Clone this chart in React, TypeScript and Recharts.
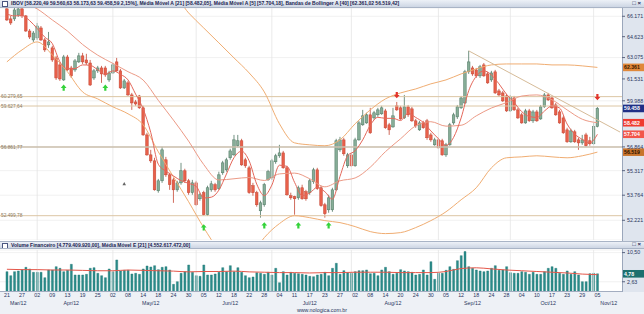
import { ComposedChart, Bar, Line, XAxis, YAxis, CartesianGrid, ReferenceLine, ReferenceDot } from 'recharts';

const FONT = "'Liberation Sans', Arial, sans-serif";

// sessions Mar/12 .. Nov/12 (BM&FBovespa trading days)
const MONTH_NUM = ['03', '04', '05', '06', '07', '08', '09', '10', '11'];
const MONTH_NAME = ['Mar/12', 'Apr/12', 'May/12', 'Jun/12', 'Jul/12', 'Aug/12', 'Sep/12', 'Oct/12', 'Nov/12'];
const SESSION_DAYS = [
  [21, 22, 23, 26, 27, 28, 29, 30],
  [2, 3, 4, 5, 9, 10, 11, 12, 13, 16, 17, 18, 19, 20, 23, 24, 25, 26, 27, 30],
  [2, 3, 4, 7, 8, 9, 10, 11, 14, 15, 16, 17, 18, 21, 22, 23, 24, 25, 28, 29, 30, 31],
  [1, 4, 5, 6, 8, 11, 12, 13, 14, 15, 18, 19, 20, 21, 22, 25, 26, 27, 28, 29],
  [2, 3, 4, 5, 6, 10, 11, 12, 13, 16, 17, 18, 19, 20, 23, 24, 25, 26, 27, 30, 31],
  [1, 2, 3, 6, 7, 8, 9, 10, 13, 14, 15, 16, 17, 20, 21, 22, 23, 24, 27, 28, 29, 30, 31],
  [3, 4, 5, 6, 10, 11, 12, 13, 14, 17, 18, 19, 20, 21, 24, 25, 26, 27, 28],
  [1, 2, 3, 4, 5, 8, 9, 10, 11, 15, 16, 17, 18, 19, 22, 23, 24, 25, 26, 29, 30, 31],
  [1, 5],
];
const FUTURE_SLOTS = 6;
const MONTH_START = [8, 28, 50, 70, 91, 114, 133, 155];
const MONTH_LABEL_AT = [3, 17, 38, 59, 80, 102, 123, 143, 159];

// IBOV, thousands of points
const OPEN = [
  66.74, 65.97, 65.97, 66.27, 66.74, 66.2, 65.05, 64.38, 64.53, 65.28, 64.38, 64.01, 63.79, 63.05, 62.54, 61.46, 63.12, 62.32, 62.18, 62.76,
  63.2, 62.9, 62.68, 61.6, 62.11, 62.32, 62.32, 61.46, 61.96, 62.76, 62.11, 60.89, 61.25, 60.4, 59.91, 60.33, 59.5, 57.66, 56.34, 55.95,
  54.04, 54.67, 56.02, 55.05, 54.73, 54.1, 54.54, 55.31, 54.67, 53.92, 54.54, 53.54, 53.92, 52.56, 54.1, 54.42, 54.17, 55.18, 55.37, 56.15,
  56.34, 56.94, 57.27, 56.02, 55.5, 54.36, 53.92, 52.8, 53.17, 54.73, 54.86, 55.89, 56.28, 56.47, 55.5, 53.73, 53.67, 53.6, 54.23, 53.98,
  53.92, 54.61, 55.37, 54.23, 53.17, 52.86, 52.86, 54.1, 56.67, 57.33, 55.63, 56.34, 55.63, 57.33, 58.34, 58.47, 59.02, 58.81, 59.02, 59.09,
  59.29, 58.34, 58.2, 59.64, 59.5, 58.81, 59.57, 59.43, 58.61, 58.0, 58.47, 58.61, 57.66, 57.0, 57.33, 57.27, 56.34, 57.0, 58.47, 58.88,
  59.5, 59.84, 62.04, 62.32, 62.18, 61.75, 62.54, 61.89, 61.46, 62.04, 60.68, 60.54, 60.33, 59.29, 60.19, 59.36, 59.02, 58.47, 59.29, 58.61,
  59.22, 58.74, 59.57, 60.4, 60.19, 59.7, 59.22, 58.81, 58.0, 57.2, 57.87, 57.33, 57.13, 57.66, 57.27, 57.07, 58.22,
];
const HIGH = [
  66.9, 66.2, 66.81, 66.89, 66.89, 66.27, 65.2, 65.05, 65.66, 65.43, 64.53, 64.98, 63.94, 63.2, 62.68, 63.27, 63.27, 62.47, 62.97, 63.42,
  63.42, 63.35, 62.9, 62.25, 62.47, 62.47, 62.47, 62.11, 62.68, 63.05, 62.25, 61.53, 61.39, 60.54, 60.05, 60.4, 59.64, 57.8, 56.67, 56.15,
  54.79, 56.87, 56.21, 55.18, 54.86, 54.67, 55.82, 55.44, 54.79, 54.73, 54.67, 53.92, 54.04, 54.36, 54.67, 54.54, 55.25, 55.95, 56.15, 56.74,
  57.66, 57.66, 57.4, 56.15, 55.63, 54.54, 54.04, 53.42, 54.54, 55.37, 56.08, 56.41, 57.0, 56.6, 55.63, 53.92, 53.73, 54.36, 54.42, 54.1,
  54.79, 55.5, 55.5, 54.36, 53.29, 53.79, 54.23, 57.4, 57.53, 57.47, 56.47, 56.47, 57.47, 58.61, 59.36, 59.16, 59.5, 59.29, 59.5, 59.64,
  59.43, 58.47, 59.5, 59.91, 59.64, 60.4, 59.7, 59.57, 58.74, 58.61, 58.61, 58.74, 57.8, 57.47, 57.47, 57.4, 57.13, 58.47, 59.16, 59.7,
  60.33, 62.18, 63.57, 62.47, 62.32, 62.54, 62.68, 62.04, 62.11, 62.18, 60.82, 60.68, 60.47, 60.4, 60.33, 59.5, 59.16, 59.43, 59.43, 59.36,
  59.36, 59.7, 60.54, 60.54, 60.33, 59.84, 59.36, 58.95, 58.14, 58.07, 58.0, 57.47, 57.66, 57.8, 57.53, 58.47, 59.56,
];
const LOW = [
  65.81, 65.51, 65.81, 66.12, 66.04, 64.98, 64.45, 64.23, 64.38, 64.3, 63.49, 63.79, 62.76, 61.46, 61.39, 61.39, 62.11, 61.6, 62.04, 62.68,
  62.61, 62.54, 61.03, 61.46, 61.96, 61.25, 61.68, 61.32, 61.89, 62.04, 60.82, 60.82, 60.33, 59.36, 59.64, 59.43, 57.6, 56.28, 55.82, 54.05,
  53.92, 54.54, 54.92, 54.1, 53.29, 53.98, 54.42, 54.54, 53.79, 53.79, 53.11, 53.42, 52.5, 52.48, 53.98, 53.98, 54.1, 55.05, 55.25, 56.02,
  56.28, 56.87, 55.63, 55.5, 53.85, 53.73, 53.05, 52.38, 53.05, 54.67, 54.73, 55.76, 56.15, 55.44, 53.73, 53.48, 52.56, 53.48, 53.48, 53.42,
  53.79, 54.48, 54.1, 53.05, 52.38, 52.68, 52.74, 54.04, 56.54, 56.28, 55.5, 55.57, 55.57, 57.27, 58.27, 58.41, 57.73, 58.68, 58.88, 59.02,
  58.07, 57.66, 58.14, 59.29, 58.68, 58.74, 58.88, 58.54, 58.14, 57.93, 58.07, 57.33, 57.2, 56.94, 56.74, 56.28, 56.21, 56.94, 58.34, 58.74,
  59.43, 59.77, 61.89, 61.75, 61.6, 61.6, 61.68, 61.18, 61.32, 60.47, 60.26, 59.91, 59.22, 59.22, 59.29, 58.74, 58.41, 58.41, 58.54, 58.47,
  58.54, 58.68, 59.5, 59.98, 59.43, 58.95, 58.41, 57.73, 57.13, 57.13, 57.13, 56.67, 57.0, 56.87, 56.94, 57.0, 58.17,
];
const CLOSE = [
  65.89, 65.66, 66.66, 66.74, 66.2, 65.05, 64.6, 64.9, 65.43, 64.38, 63.64, 64.23, 62.9, 61.6, 61.53, 63.12, 62.18, 61.75, 62.83, 63.2,
  62.76, 62.68, 61.1, 62.11, 62.32, 61.89, 61.82, 61.96, 62.54, 62.11, 60.89, 61.39, 60.4, 59.84, 59.77, 59.5, 57.66, 56.34, 55.95, 54.1,
  54.67, 56.67, 55.05, 54.42, 54.1, 54.54, 55.31, 54.67, 53.92, 54.54, 53.17, 53.79, 52.56, 54.23, 54.48, 54.1, 55.05, 55.82, 56.02, 56.6,
  57.33, 57.27, 55.69, 55.63, 53.92, 53.92, 53.17, 53.29, 54.42, 55.25, 55.95, 56.28, 56.47, 55.5, 53.79, 53.6, 53.54, 54.23, 53.54, 53.54,
  54.67, 55.37, 54.17, 53.11, 52.62, 53.6, 54.1, 57.27, 57.33, 56.41, 56.34, 55.63, 57.33, 58.47, 58.95, 59.02, 57.8, 59.16, 59.36, 59.5,
  58.14, 58.0, 58.95, 59.36, 58.74, 59.57, 59.02, 58.61, 58.27, 58.47, 58.14, 57.47, 57.33, 57.33, 56.8, 56.34, 57.0, 58.34, 59.02, 59.57,
  60.19, 62.04, 62.76, 61.89, 61.75, 62.4, 61.75, 61.25, 61.96, 60.54, 60.4, 59.98, 59.29, 60.26, 59.36, 58.81, 58.47, 59.29, 58.61, 59.22,
  58.61, 59.57, 60.4, 60.05, 59.5, 59.02, 58.47, 57.8, 57.2, 57.93, 57.2, 57.13, 57.33, 56.94, 57.07, 58.21, 59.46,
];
// Volume Financeiro, R$ billions
const VOLUME = [
  5.36, 4.28, 5.36, 5.54, 5.9, 6.53, 6.08, 5.18, 5.18, 5.18, 3.74, 5.81, 5.81, 6.71, 6.26, 5.36, 5.72, 7.34, 4.46, 4.46,
  4.46, 4.64, 6.26, 6.44, 4.91, 4.28, 3.74, 6.08, 5.36, 8.51, 5.54, 5.72, 5.72, 4.73, 4.91, 4.64, 6.08, 6.89, 6.62, 6.98,
  5.9, 6.53, 6.71, 5.81, 1.94, 2.66, 4.91, 5.36, 7.16, 5.18, 4.28, 4.1, 7.16, 4.46, 4.46, 4.73, 5.18, 6.44, 5.36, 6.98,
  5.36, 6.44, 5.18, 4.28, 3.74, 3.92, 5.09, 4.91, 4.64, 5.18, 4.46, 6.26, 2.39, 5.36, 4.46, 5.18, 4.91, 4.82, 4.64, 4.46,
  4.1, 4.01, 4.46, 4.64, 5.18, 4.28, 6.26, 7.61, 4.64, 5.63, 5.09, 4.91, 5.36, 5.63, 5.63, 5.81, 4.82, 4.91, 4.28, 5.81,
  6.53, 5.36, 4.64, 4.91, 5.9, 5.54, 5.36, 5.18, 4.46, 4.64, 5.81, 4.46, 8.06, 3.29, 4.91, 4.91, 5.72, 6.71, 5.99, 8.33,
  9.68, 10.77, 6.71, 6.26, 5.81, 5.54, 5.36, 5.54, 6.26, 6.98, 5.72, 5.81, 6.71, 5.09, 4.91, 4.91, 5.36, 5.18, 4.64, 5.18,
  4.64, 4.64, 5.36, 6.26, 6.71, 6.26, 4.91, 4.64, 5.54, 4.64, 5.36, 4.46, 2.66, 2.66, 4.82, 4.91, 4.78,
];

// indicators: every 4th session (MA21, bands, volume EMA), every 2nd (MA5)
const MA21 = [
  67.91, 67.28, 66.74, 65.89, 65.05, 64.04, 63.25, 62.65, 62.05, 61.45, 60.02, 58.66, 57.25, 55.71, 54.72, 54.8, 54.88, 54.69, 55.11, 55.16,
  54.8, 54.29, 54.67, 54.85, 55.54, 56.55, 57.4, 58.27, 58.55, 58.25, 58.31, 58.95, 59.49, 59.86, 60.32, 60.4, 60.06, 59.36, 58.72, 58.48,
];
const MA5 = [
  66.35, 66.2, 66.23, 65.84, 65.24, 64.59, 64.11, 62.77, 62.26, 62.28, 62.54, 62.51, 62.19, 61.85, 62.11, 61.86, 61.46, 60.46, 59.43, 57.83,
  55.73, 55.29, 54.98, 54.68, 54.51, 54.32, 53.59, 53.64, 54.08, 55.1, 56.16, 56.58, 55.95, 54.46, 53.74, 54.4, 55.67, 55.59, 54.57, 53.74,
  53.9, 54.26, 53.98, 53.52, 54.95, 56.28, 56.61, 57.33, 58.31, 58.85, 58.78, 58.78, 58.63, 59.13, 58.84, 58.5, 57.93, 57.41, 56.96, 57.49,
  58.81, 60.69, 61.72, 62.11, 61.82, 61.18, 60.44, 59.87, 59.24, 58.91, 58.84, 59.28, 59.63, 59.49, 58.39, 57.72, 57.36, 57.13, 57.7,
];
const BB_UP = [
  68.38, 68.54, 68.38, 68.38, 68.54, 68.54, 68.46, 68.38, 68.22, 68.06, 68.06, 67.83, 66.43, 65.28, 64.16, 63.05, 61.96, 60.61, 58.41, 57.13,
  57.0, 56.94, 57.33, 58.41, 59.36, 60.12, 60.54, 60.82, 61.18, 61.46, 61.89, 62.25, 62.54, 62.61, 62.61, 62.61, 62.54, 62.54, 62.47, 62.36,
];
const BB_LOW = [
  62.76, 63.64, 64.23, 63.27, 62.04, 60.61, 60.12, 59.57, 59.09, 58.34, 56.54, 54.92, 53.36, 51.78, 50.45, 49.75, 49.98, 51.18, 52.02, 52.5,
  52.38, 52.2, 52.08, 51.84, 51.54, 51.42, 51.48, 51.78, 52.2, 52.74, 53.48, 54.23, 55.5, 56.15, 56.21, 56.28, 56.21, 56.15, 56.28, 56.52,
];
const VOL_EMA = [
  6.0, 5.9, 5.9, 5.8, 5.8, 5.7, 5.6, 5.6, 5.8, 5.7, 5.6, 5.5, 5.3, 5.4, 5.4, 5.5, 5.3, 5.2, 5.1, 5.1,
  5.0, 5.1, 5.1, 5.2, 5.2, 5.2, 5.1, 5.1, 5.1, 5.4, 6.2, 6.4, 6.1, 5.8, 5.6, 5.4, 5.2, 5.0, 4.7, 4.55,
];

const BUY_AT = [15, 26, 52, 68, 77, 85];
const BUY_Y = [60.89, 60.89, 51.78, 51.9, 51.9, 51.9];
const SELL_AT = [103, 156];
const SELL_Y = [60.4, 60.26];
const TREND_AT = [122, 162];
const TREND_Y = [63.57, 57.85];

const LEVELS = [60.27965, 59.62764, 56.86177, 52.49978];
const LEVEL_TEXT = ['60.279,65', '59.627,64', '56.861,77', '52.499,78'];
const PRICE_TICKS = [52.221, 53.764, 55.317, 56.864, 59.988, 61.531, 63.075, 64.623, 66.171];
// 5,25 sits under the current-volume tag, so it is not printed
const VOL_TICKS = [2.63, 7.88, 10.5];

const KEYS: string[] = [];
SESSION_DAYS.forEach((days, m) => days.forEach((d) => KEYS.push(`${String(d).padStart(2, '0')}/${MONTH_NUM[m]}`)));
for (let k = 1; k <= FUTURE_SLOTS; k++) KEYS.push(`+${k}`);

const ROWS = KEYS.map((key, i) => {
  const real = i < CLOSE.length;
  return {
    key,
    open: real ? OPEN[i] : null,
    high: real ? HIGH[i] : null,
    low: real ? LOW[i] : null,
    close: real ? CLOSE[i] : null,
    range: real ? [LOW[i], HIGH[i]] : null,
    vol: real ? VOLUME[i] : null,
    ma21: i % 4 === 0 && i / 4 < MA21.length ? MA21[i / 4] : null,
    bbU: i % 4 === 0 && i / 4 < BB_UP.length ? BB_UP[i / 4] : null,
    bbL: i % 4 === 0 && i / 4 < BB_LOW.length ? BB_LOW[i / 4] : null,
    volEma: i % 4 === 0 && i / 4 < VOL_EMA.length ? VOL_EMA[i / 4] : null,
    ma5: i % 2 === 0 && i / 2 < MA5.length ? MA5[i / 2] : null,
    buy: BUY_AT.includes(i) ? BUY_Y[BUY_AT.indexOf(i)] : null,
    sell: SELL_AT.includes(i) ? SELL_Y[SELL_AT.indexOf(i)] : null,
    trend: TREND_AT.includes(i) ? TREND_Y[TREND_AT.indexOf(i)] : null,
  };
});

const UP_FILL = '#86ad97';
const UP_LINE = '#4f7763';
const DOWN_FILL = '#e8604a';
const DOWN_LINE = '#c44634';

function Candle(props: any) {
  const { x, y, width, height, payload } = props;
  if (!payload || payload.open == null || typeof y !== 'number') return <g />;
  const { open, close, high, low } = payload;
  const top = Math.min(y, y + height);
  const bottom = Math.max(y, y + height);
  const lh = Math.log(high);
  const ll = Math.log(low);
  const py = (v: number) => (lh === ll ? top : top + ((bottom - top) * (lh - Math.log(v))) / (lh - ll));
  const up = close >= open;
  const cx = x + width / 2;
  const bTop = py(Math.max(open, close));
  const bBot = py(Math.min(open, close));
  const w = 2.6;
  return (
    <g>
      <line x1={cx} x2={cx} y1={top} y2={bottom} stroke={up ? UP_LINE : DOWN_LINE} strokeWidth={0.8} />
      <rect
        x={cx - w / 2}
        y={bTop}
        width={w}
        height={Math.max(0.8, bBot - bTop)}
        fill={up ? UP_FILL : DOWN_FILL}
        stroke={up ? UP_LINE : DOWN_LINE}
        strokeWidth={0.5}
      />
    </g>
  );
}

const upArrow = (p: any) => {
  const { cx, cy, index } = p;
  if (typeof cy !== 'number' || Number.isNaN(cy)) return <g key={index} />;
  return (
    <path
      key={index}
      d={`M${cx},${cy - 3.4} L${cx + 2.9},${cy} L${cx + 1.1},${cy} L${cx + 1.1},${cy + 2.8} L${cx - 1.1},${cy + 2.8} L${cx - 1.1},${cy} L${cx - 2.9},${cy} Z`}
      fill="#34d33a"
    />
  );
};

const downArrow = (p: any) => {
  const { cx, cy, index } = p;
  if (typeof cy !== 'number' || Number.isNaN(cy)) return <g key={index} />;
  return (
    <path
      key={index}
      d={`M${cx},${cy + 3.4} L${cx + 2.9},${cy} L${cx + 1.1},${cy} L${cx + 1.1},${cy - 2.8} L${cx - 1.1},${cy - 2.8} L${cx - 1.1},${cy} L${cx - 2.9},${cy} Z`}
      fill="#e2332b"
    />
  );
};

const levelLabel = (text: string) => (props: any) => {
  const vb = props.viewBox;
  return (
    <text x={vb.x + 1} y={vb.y + 1.6} fontSize={4.8} fill="#8c7b62" fontFamily={FONT}>
      {text}
    </text>
  );
};

const tag = (text: string, bg: string, fg: string) => (props: any) => {
  const { x, y, width } = props.viewBox;
  return (
    <g>
      <rect x={x + width + 1} y={y - 3.8} width={22} height={7.6} fill={bg} />
      <text x={x + width + 2} y={y + 2} fontSize={5.2} fill={fg} fontFamily={FONT} fontWeight="bold">
        {text}
      </text>
    </g>
  );
};

const smallTriangle = (p: any) => (
  <path d={`M${p.cx},${p.cy - 1.8} L${p.cx + 1.8},${p.cy + 1.4} L${p.cx - 1.8},${p.cy + 1.4} Z`} fill="#666" />
);

const tickStyle = { fontSize: 5.3, fill: '#29355e', fontFamily: FONT };

function PriceChart() {
  return (
    <ComposedChart width={644} height={240} data={ROWS} margin={{ top: 8, right: 0, bottom: 0, left: 0 }}>
      <CartesianGrid vertical={false} stroke="#eeeeee" strokeWidth={0.8} />
      <XAxis dataKey="key" hide padding={{ left: 5, right: 0 }} />
      <YAxis
        orientation="right"
        width={22}
        scale="log"
        domain={[51.04, 66.81]}
        allowDataOverflow
        ticks={PRICE_TICKS}
        tickFormatter={(v: number) => v.toFixed(3)}
        tick={tickStyle}
        tickSize={3}
        tickLine={{ stroke: '#5b6580' }}
        axisLine={false}
      />
      {MONTH_START.map((i) => (
        <ReferenceLine key={i} x={KEYS[i]} stroke="#e4e4e4" strokeWidth={0.8} />
      ))}
      {LEVELS.map((v, i) => (
        <ReferenceLine
          key={v}
          y={v}
          stroke={i === 2 ? '#cbbfad' : '#dcc6a4'}
          strokeWidth={i === 2 ? 1.6 : 1}
          label={levelLabel(LEVEL_TEXT[i])}
        />
      ))}
      <Bar dataKey="range" shape={(p: any) => <Candle {...p} />} isAnimationActive={false} />
      <Line dataKey="bbU" type="monotone" stroke="#f0ad72" strokeWidth={1} dot={false} activeDot={false} connectNulls isAnimationActive={false} />
      <Line dataKey="bbL" type="monotone" stroke="#f0ad72" strokeWidth={1} dot={false} activeDot={false} connectNulls isAnimationActive={false} />
      <Line dataKey="ma21" type="monotone" stroke="#ec9a86" strokeWidth={1} dot={false} activeDot={false} connectNulls isAnimationActive={false} />
      <Line dataKey="ma5" type="monotone" stroke="#e4675a" strokeWidth={1} dot={false} activeDot={false} connectNulls isAnimationActive={false} />
      <Line dataKey="trend" type="linear" stroke="#d6bb98" strokeWidth={1} dot={false} activeDot={false} connectNulls isAnimationActive={false} />
      <Line dataKey="buy" stroke="none" dot={upArrow} activeDot={false} isAnimationActive={false} />
      <Line dataKey="sell" stroke="none" dot={downArrow} activeDot={false} isAnimationActive={false} />
      <ReferenceDot x={KEYS[31]} y={54.48} shape={smallTriangle} />
      <ReferenceLine y={62.361} stroke="none" label={tag('62.361', '#e0883a', '#3a1a00')} />
      <ReferenceLine y={59.459} stroke="none" label={tag('59.458', '#1f2f86', '#ffffff')} />
      <ReferenceLine y={58.482} stroke="none" label={tag('58.482', '#ef3b30', '#ffffff')} />
      <ReferenceLine y={57.704} stroke="none" label={tag('57.704', '#f2564a', '#ffffff')} />
      <ReferenceLine y={56.519} stroke="none" label={tag('56.519', '#c8742c', '#2a1200')} />
    </ComposedChart>
  );
}

function VolumeChart() {
  return (
    <ComposedChart
      width={644}
      height={65}
      data={ROWS}
      margin={{ top: 1, right: 0, bottom: 6, left: 0 }}
      barCategoryGap="26%"
    >
      <CartesianGrid vertical={false} stroke="#eeeeee" strokeWidth={0.8} />
      <XAxis
        xAxisId="d"
        dataKey="key"
        interval={3}
        tickFormatter={(k: string) => (k.startsWith('+') ? '' : k.slice(0, 2))}
        tick={tickStyle}
        tickLine={false}
        tickSize={0}
        tickMargin={2}
        axisLine={{ stroke: '#a3adc0' }}
        height={8.5}
        padding={{ left: 5, right: 0 }}
      />
      <XAxis
        xAxisId="m"
        dataKey="key"
        ticks={MONTH_LABEL_AT.map((i) => KEYS[i])}
        interval={0}
        tickFormatter={(k: string) => MONTH_NAME[MONTH_LABEL_AT.map((i) => KEYS[i]).indexOf(k)] || ''}
        tick={tickStyle}
        tickLine={false}
        tickSize={0}
        tickMargin={1}
        axisLine={false}
        height={8}
        padding={{ left: 5, right: 0 }}
      />
      <YAxis
        orientation="right"
        width={22}
        domain={[0, 11.2]}
        allowDataOverflow
        ticks={VOL_TICKS}
        tickFormatter={(v: number) => v.toFixed(2).replace('.', ',')}
        tick={tickStyle}
        tickSize={3}
        tickLine={{ stroke: '#5b6580' }}
        axisLine={false}
      />
      {MONTH_START.map((i) => (
        <ReferenceLine key={i} xAxisId="d" x={KEYS[i]} stroke="#e4e4e4" strokeWidth={0.8} />
      ))}
      <Bar xAxisId="d" dataKey="vol" fill="#2a8c8a" stroke="#1f7472" strokeWidth={0.4} isAnimationActive={false} />
      <Line
        xAxisId="d"
        dataKey="volEma"
        type="monotone"
        stroke="#e4574a"
        strokeWidth={1}
        dot={false}
        activeDot={false}
        connectNulls
        isAnimationActive={false}
      />
      <ReferenceLine xAxisId="d" y={4.779} stroke="none" label={tag('4,78', '#1d6f6e', '#ffffff')} />
    </ComposedChart>
  );
}

const headerStyle = {
  position: 'absolute' as const,
  left: 0,
  width: 644,
  height: 8,
  background: 'linear-gradient(#edf1f7, #cdd6e4)',
  borderBottom: '1px solid #a9b4c6',
  boxSizing: 'border-box' as const,
  fontSize: 5,
  lineHeight: '7px',
  color: '#1c2450',
  fontWeight: 'bold' as const,
  whiteSpace: 'nowrap' as const,
  overflow: 'hidden',
};

const box = { display: 'inline-block', width: 4, height: 4, border: '0.8px solid #4a5680', marginLeft: 2, marginRight: 3, verticalAlign: 'middle', background: '#fff' };

export default function App() {
  return (
    <div
      style={{
        position: 'fixed',
        left: 0,
        top: 0,
        width: 644,
        height: 314,
        background: '#ffffff',
        overflow: 'hidden',
        fontFamily: FONT,
      }}
    >
      <div style={{ position: 'absolute', left: 622, top: 8, width: 22, height: 233, background: '#dfe5ee', borderLeft: '1px solid #9ba7bb', boxSizing: 'border-box' }} />
      <div style={{ position: 'absolute', left: 622, top: 249, width: 22, height: 43, background: '#dfe5ee', borderLeft: '1px solid #9ba7bb', boxSizing: 'border-box' }} />
      <div style={{ position: 'absolute', left: 0, top: 292, width: 644, height: 22, background: '#eef1f6' }} />
      <div style={{ position: 'absolute', left: 0, top: 0 }}>
        <PriceChart />
      </div>
      <div style={{ position: 'absolute', left: 0, top: 249 }}>
        <VolumeChart />
      </div>
      <div style={{ ...headerStyle, top: 0 }}>
        <span style={box} />
        IBOV [58.220,49 59.560,63 58.173,63 59.458,59 2,15%], Média Móvel A [21] [58.482,05], Média Móvel A [5] [57.704,18], Bandas de Bollinger A [40] [62.361,02 56.519,42]
        <span style={{ position: 'absolute', right: 3, top: 0, fontSize: 6 }}>□ ×</span>
      </div>
      <div style={{ ...headerStyle, top: 241, borderTop: '1px solid #a9b4c6', height: 8 }}>
        <span style={box} />
        Volume Financeiro [4.779.409.920,00], Média Móvel E [21] [4.552.617.472,00]
        <span style={{ position: 'absolute', right: 3, top: -1, fontSize: 6 }}>□ ×</span>
      </div>
      <div
        style={{
          position: 'absolute',
          left: 0,
          top: 306,
          width: 644,
          textAlign: 'center',
          fontSize: 5.3,
          color: '#26325c',
          lineHeight: '8px',
        }}
      >
        www.nologica.com.br
      </div>
    </div>
  );
}
